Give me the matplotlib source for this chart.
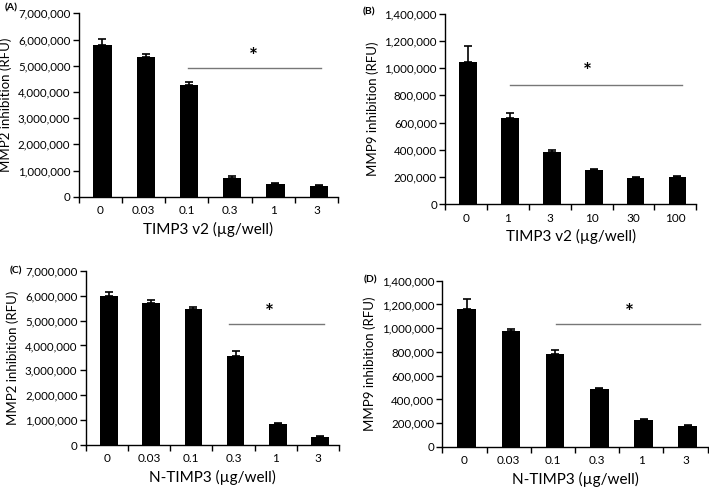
import matplotlib
matplotlib.use("Agg")
import matplotlib.pyplot as plt
from matplotlib.ticker import FuncFormatter, FixedLocator
import numpy as np

plt.rcParams["font.family"] = ["Lato", "DejaVu Sans"]

# panel data
doses_a = ["0", "0.03", "0.1", "0.3", "1", "3"]
mmp2_v2 = [5800000, 5330000, 4260000, 700000, 500000, 400000]
mmp2_v2_err = [210000, 100000, 110000, 80000, 20000, 40000]

doses_b = ["0", "1", "3", "10", "30", "100"]
mmp9_v2 = [1045000, 635000, 385000, 250000, 190000, 200000]
mmp9_v2_err = [115000, 32000, 15000, 12000, 10000, 6000]

doses_c = ["0", "0.03", "0.1", "0.3", "1", "3"]
mmp2_n = [5980000, 5700000, 5460000, 3580000, 850000, 330000]
mmp2_n_err = [170000, 140000, 80000, 190000, 50000, 40000]

doses_d = ["0", "0.03", "0.1", "0.3", "1", "3"]
mmp9_n = [1165000, 975000, 785000, 485000, 225000, 175000]
mmp9_n_err = [77000, 15000, 30000, 15000, 10000, 7000]

panels = [
    dict(tag="(A)", tagpos=(0.016, 0.983), rect=[0.111, 0.600, 0.366, 0.373], x=doses_a, y=mmp2_v2,
         err=mmp2_v2_err, ylabel="MMP2 inhibition (RFU)", xlabel="TIMP3 v2 (\u00b5g/well)",
         ymax=7000000, step=1000000, sig=(2.03, 5.1, 4900000), star=(3.53, 5320000)),
    dict(tag="(B)", tagpos=(0.520, 0.975), rect=[0.628, 0.585, 0.354, 0.387], x=doses_b, y=mmp9_v2,
         err=mmp9_v2_err, ylabel="MMP9 inhibition (RFU)", xlabel="TIMP3 v2 (\u00b5g/well)",
         ymax=1400000, step=200000, sig=(1.05, 5.15, 879000), star=(2.89, 973000)),
    dict(tag="(C)", tagpos=(0.022, 0.449), rect=[0.121, 0.0955, 0.357, 0.354], x=doses_c, y=mmp2_n,
         err=mmp2_n_err, ylabel="MMP2 inhibition (RFU)", xlabel="N-TIMP3 (\u00b5g/well)",
         ymax=7000000, step=1000000, sig=(2.9, 5.15, 4860000), star=(3.86, 5310000)),
    dict(tag="(D)", tagpos=(0.522, 0.430), rect=[0.624, 0.0915, 0.374, 0.338], x=doses_d, y=mmp9_n,
         err=mmp9_n_err, ylabel="MMP9 inhibition (RFU)", xlabel="N-TIMP3 (\u00b5g/well)",
         ymax=1400000, step=200000, sig=(2.07, 5.33, 1033000), star=(3.74, 1128000)),
]

fig = plt.figure(figsize=(7.09, 4.92), dpi=100)

for p in panels:
    ax = fig.add_axes(p["rect"])
    pos = np.arange(len(p["x"]))
    ax.bar(pos + 0.05, p["y"], width=0.42, color="black", zorder=2)
    ax.errorbar(pos + 0.05, p["y"], yerr=[np.zeros(len(pos)), p["err"]], fmt="none",
                ecolor="black", elinewidth=1.2, capsize=3, capthick=1.2, zorder=3)
    ax.set_xlim(-0.5, len(pos) - 0.5)
    ax.set_ylim(0, p["ymax"])
    ax.set_yticks(np.arange(0, p["ymax"] + 1, p["step"]))
    ax.yaxis.set_major_formatter(FuncFormatter(lambda v, _: f"{int(v):,}"))
    ax.set_xticks(pos)
    ax.set_xticklabels(p["x"])
    ax.xaxis.set_minor_locator(FixedLocator(np.arange(-0.5, len(pos), 1.0)))
    ax.tick_params(axis="x", which="major", length=0, pad=6, labelsize=8.5)
    ax.tick_params(axis="x", which="minor", length=4, width=1, direction="out")
    ax.tick_params(axis="y", length=4, width=1, labelsize=8.3, pad=2)
    for s in ["top", "right"]:
        ax.spines[s].set_visible(False)
    for s in ["left", "bottom"]:
        ax.spines[s].set_linewidth(1)
    ax.set_ylabel(p["ylabel"], fontsize=9.5, labelpad=4)
    ax.set_xlabel(p["xlabel"], fontsize=11, labelpad=4)
    x0, x1, yl = p["sig"]
    ax.plot([x0, x1], [yl, yl], color="#777777", lw=1)
    ax.text(p["star"][0], p["star"][1], "*", ha="center", va="center", fontsize=15, fontweight="bold")
    fig.text(p["tagpos"][0], p["tagpos"][1], p["tag"], ha="center", va="center",
             fontsize=7.5, fontweight="bold")

fig.savefig("out.png", dpi=100)
